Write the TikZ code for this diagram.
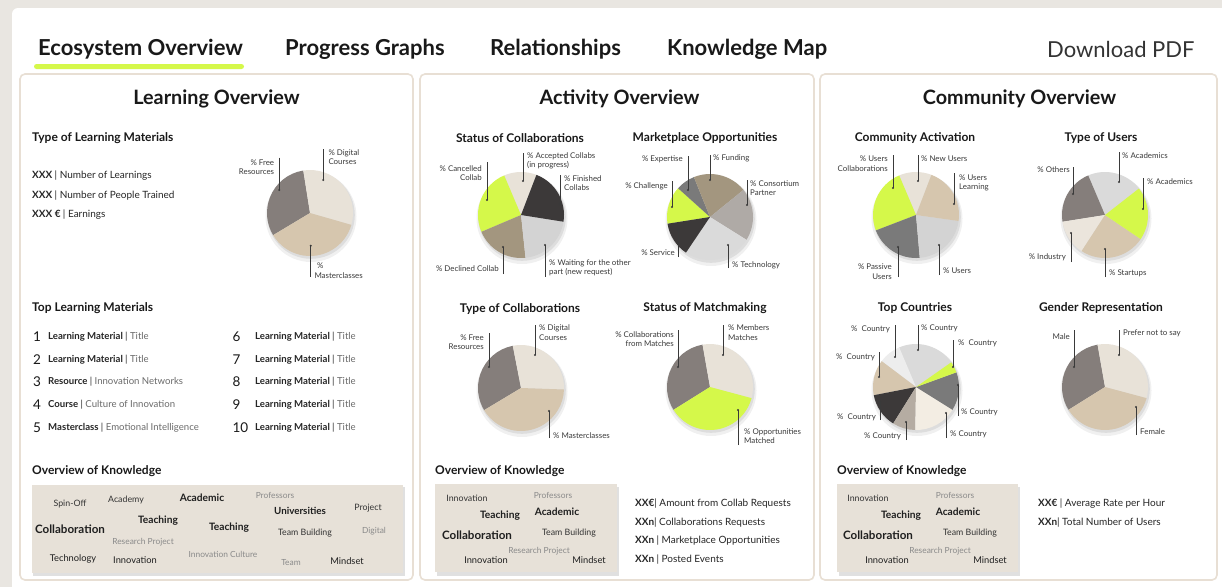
\documentclass[tikz,border=0pt]{standalone}
\usepackage{fontspec}
\setmainfont{Lato}
\definecolor{bgout}{HTML}{E9E6E1}
\definecolor{pborder}{HTML}{E8DFD4}
\definecolor{gr}{HTML}{D5F84A}
\definecolor{lbeige}{HTML}{E8E2D8}
\definecolor{tan}{HTML}{D6C6AE}
\definecolor{wgray}{HTML}{857E7B}
\definecolor{dark}{HTML}{3C3939}
\definecolor{brown}{HTML}{A3967F}
\definecolor{lgray}{HTML}{D3D3D3}
\definecolor{mgray}{HTML}{7A7A7A}
\definecolor{cgray}{HTML}{AFAAA6}
\definecolor{tgray}{HTML}{DADADA}
\definecolor{vlight}{HTML}{EDEDED}
\definecolor{taupe}{HTML}{B5ACA2}
\definecolor{cream}{HTML}{F3EDE3}
\definecolor{indus}{HTML}{EBE5DC}
\definecolor{cloud}{HTML}{E7E1D8}
\definecolor{lab}{HTML}{3A3A3A}
\definecolor{ttl}{HTML}{6A6A6A}
\definecolor{wlight}{HTML}{8A8A8A}
\newcommand\slice[6]{\fill[#6] (#1,#2) -- ++({-(#4)}:#3) arc[start angle={-(#4)}, end angle={-(#5)}, radius=#3] -- cycle;}
\newcommand\pieshadow[2]{\fill[black,opacity=0.06] (#1+1,#2+3.5) circle (45.5);\fill[black,opacity=0.08] (#1+1,#2+2) circle (43.8);}
\newcommand\lead[4]{\coordinate (#1-a) at (#2,#3); \coordinate (#1-b) at (#2,#4);
  \draw[leadline] (#1-a) -- (#1-b); \fill[lab] (#1-b) circle (1.1);}
\begin{document}
\begin{tikzpicture}[x=1pt,y=-1pt,
  tab/.style={font=\fontsize{22}{25}\selectfont\bfseries, text=black!90, inner sep=0, anchor=west, yshift=-2pt},
  ptitle/.style={font=\fontsize{19.8}{23}\selectfont\bfseries, text=black!90, inner sep=0, yshift=-1.5pt},
  shead/.style={font=\fontsize{12}{14}\selectfont\bfseries, text=black!90, inner sep=0, yshift=-1.5pt},
  body/.style={font=\fontsize{10}{12}\selectfont, text=black!85, inner sep=0, anchor=west, yshift=-1.5pt},
  num/.style={font=\fontsize{13.5}{15}\selectfont, text=black!90, inner sep=0, anchor=west, yshift=-1pt},
  item/.style={font=\fontsize{9.6}{11}\selectfont, text=black!85, inner sep=0, anchor=west, yshift=-1pt},
  pl/.style={font=\fontsize{7.9}{9.4}\selectfont, text=lab, inner sep=0},
  leadline/.style={draw=lab, line width=0.6pt},
  panel/.style={draw=pborder, line width=1.6pt, fill=white, rounded corners=5pt},
  wc/.style={font=\fontsize{8.8}{10}\selectfont, text=black!80, inner sep=0},
  wcm/.style={font=\fontsize{9.3}{10}\selectfont, text=black!88, inner sep=0},
  wcb/.style={font=\fontsize{10.2}{11}\selectfont\bfseries, text=black!88, inner sep=0},
  wcbig/.style={font=\fontsize{11.6}{13}\selectfont\bfseries, text=black!88, inner sep=0},
  wcl/.style={font=\fontsize{8.4}{10}\selectfont, text=wlight, inner sep=0}]
\useasboundingbox (0,0) rectangle (1222,587);
\fill[bgout] (0,0) rectangle (1222,587);
\fill[white] (12,8) [rounded corners=6pt] rectangle (1240,600);

% tabs
\node[tab] (t1) at (38,47) {Ecosystem Overview};
\node[tab] (t2) at (285,47) {Progress Graphs};
\node[tab] (t3) at (490,47) {Relationships};
\node[tab] (t4) at (667,47) {Knowledge Map};
\node[tab, font=\fontsize{22}{25}\selectfont, text=black!80] (t5) at (1047,47) {Download PDF};
\fill[gr, rounded corners=2.5pt] (34,64) rectangle (244,69);

% panels
\draw[panel] (20,74) rectangle (413,580);
\draw[panel] (420,74) rectangle (814,580);
\draw[panel] (820,74) rectangle (1217,580);
\node[ptitle] (p1) at (216.5,97) {Learning Overview};
\node[ptitle] (p2) at (619.5,97) {Activity Overview};
\node[ptitle] (p3) at (1019.5,97) {Community Overview};

%% ---------------- LEFT PANEL
\node[shead, anchor=west] (h1) at (32,137) {Type of Learning Materials};
\node[body] (b1) at (32,174) {\bfseries XXX \mdseries| Number of Learnings};
\node[body] (b2) at (32,194) {\bfseries XXX \mdseries| Number of People Trained};
\node[body] (b3) at (32,213) {\bfseries XXX € \mdseries| Earnings};

\pieshadow{310}{213}
\slice{310}{213}{43}{99}{211}{wgray}
\slice{310}{213}{43}{-16}{99}{lbeige}
\slice{310}{213}{43}{211}{344}{tan}
\node[pl, anchor=east, align=right] (lf) at (274.3,167) {\% Free\\Resources};
\lead{lfl}{279.3}{157.7}{190}
\node[pl, anchor=west, align=left] (ld) at (328.3,157) {\% Digital\\Courses};
\lead{ldl}{323.3}{149.3}{180}
\node[pl, anchor=west, align=left] (lm) at (314.3,270.5) {\,\,\%\\Masterclasses};
\lead{lml}{310.7}{276.7}{245.7}

\node[shead, anchor=west] (h2) at (32,307) {Top Learning Materials};
\node[num] (n1) at (33,336) {1};
\node[item] (i1) at (48,336) {\bfseries Learning Material \mdseries| \textcolor{ttl}{Title}};
\node[num] (n2) at (33,358.3) {2};
\node[item] (i2) at (48,358.3) {\bfseries Learning Material \mdseries| \textcolor{ttl}{Title}};
\node[num] (n3) at (33,381) {3};
\node[item] (i3) at (48,381) {\bfseries Resource \mdseries| \textcolor{ttl}{Innovation Networks}};
\node[num] (n4) at (33,404) {4};
\node[item] (i4) at (48,404) {\bfseries Course \mdseries| \textcolor{ttl}{Culture of Innovation}};
\node[num] (n5) at (33,426.7) {5};
\node[item] (i5) at (48,426.7) {\bfseries Masterclass \mdseries| \textcolor{ttl}{Emotional Intelligence}};
\node[num] (n6) at (232.3,336) {6};
\node[item] (i6) at (255,336) {\bfseries Learning Material \mdseries| \textcolor{ttl}{Title}};
\node[num] (n7) at (232.3,358.3) {7};
\node[item] (i7) at (255,358.3) {\bfseries Learning Material \mdseries| \textcolor{ttl}{Title}};
\node[num] (n8) at (232.3,381) {8};
\node[item] (i8) at (255,381) {\bfseries Learning Material \mdseries| \textcolor{ttl}{Title}};
\node[num] (n9) at (232.3,404) {9};
\node[item] (i9) at (255,404) {\bfseries Learning Material \mdseries| \textcolor{ttl}{Title}};
\node[num] (n10) at (232.3,426.7) {10};
\node[item] (i10) at (255,426.7) {\bfseries Learning Material \mdseries| \textcolor{ttl}{Title}};

\node[shead, anchor=west] (h3) at (32,470) {Overview of Knowledge};
\fill[black,opacity=0.12] (33,487) rectangle (405,576);
\fill[cloud] (31.5,484.5) rectangle (403,572.5);
\node[wc] (w1) at (70,504) {Spin-Off};
\node[wc] (w2) at (126,500) {Academy};
\node[wcb] (w3) at (202,498) {Academic};
\node[wcl] (w4) at (275,495) {Professors};
\node[wcb, font=\fontsize{9.8}{11}\selectfont\bfseries] (w5) at (300,511) {Universities};
\node[wc] (w6) at (368,508) {Project};
\node[wcbig] (w7) at (70,529) {Collaboration};
\node[wcb] (w8) at (158,521) {Teaching};
\node[wcb] (w9) at (229,528) {Teaching};
\node[wc] (w10) at (305,533) {Team Building};
\node[wcl] (w11) at (374,531) {Digital};
\node[wcl] (w12) at (143,542) {Research Project};
\node[wcm] (w13) at (73,559) {Technology};
\node[wcm] (w14) at (135,560) {Innovation};
\node[wcl] (w15) at (223,554) {Innovation Culture};
\node[wcl] (w16) at (291,563) {Team};
\node[wcm] (w17) at (347,561) {Mindset};

%% ---------------- MIDDLE PANEL
\node[shead] (h4) at (520,137) {Status of Collaborations};
\node[shead] (h5) at (705,137) {Marketplace Opportunities};
\pieshadow{521}{215}
\slice{521}{215}{43}{69}{113}{lbeige}
\slice{521}{215}{43}{113}{203}{gr}
\slice{521}{215}{43}{203}{276}{brown}
\slice{521}{215}{43}{276}{351}{lgray}
\slice{521}{215}{43}{351}{429}{dark}
\node[pl, anchor=east, align=right] (m1a) at (482,173) {\% Cancelled\\Collab};
\lead{m1al}{487}{162}{200}
\node[pl, anchor=west, align=left] (m1b) at (527,161) {\% Accepted Collabs\\(in progress)};
\lead{m1bl}{523}{153}{181}
\node[pl, anchor=west, align=left] (m1c) at (564,183) {\% Finished\\Collabs};
\lead{m1cl}{560}{175}{204}
\node[pl, anchor=east] (m1d) at (499,269) {\% Declined Collab};
\lead{m1dl}{503}{274}{247}
\node[pl, anchor=west, align=left] (m1e) at (549,268) {\% Waiting for the other\\part (new request)};
\lead{m1el}{545}{276.7}{245}

\pieshadow{710}{217}
\slice{710}{217}{43}{138}{189}{gr}
\slice{710}{217}{43}{112}{138}{mgray}
\slice{710}{217}{43}{39}{112}{brown}
\slice{710}{217}{43}{-32}{39}{cgray}
\slice{710}{217}{43}{236}{328}{tgray}
\slice{710}{217}{43}{189}{236}{dark}
\node[pl, anchor=east] (m2a) at (683,159) {\% Expertise};
\lead{m2al}{688}{156}{190}
\node[pl, anchor=west] (m2b) at (713,158) {\% Funding};
\lead{m2bl}{710}{155}{180}
\node[pl, anchor=west, align=left] (m2c) at (750,188) {\% Consortium\\Partner};
\lead{m2cl}{747}{180}{205}
\node[pl, anchor=east] (m2d) at (668,186) {\% Challenge};
\lead{m2dl}{672}{181}{207}
\node[pl, anchor=east] (m2e) at (675,253) {\% Service};
\lead{m2el}{678}{257}{230}
\node[pl, anchor=west] (m2f) at (732,265) {\% Technology};
\lead{m2fl}{728}{268}{245}

\node[shead] (h6) at (520,308) {Type of Collaborations};
\node[shead] (h7) at (705,307) {Status of Matchmaking};
\pieshadow{521}{388}
\slice{521}{388}{43}{101}{211}{wgray}
\slice{521}{388}{43}{-2}{101}{lbeige}
\slice{521}{388}{43}{211}{358}{tan}
\node[pl, anchor=east, align=right] (m3a) at (484,342) {\% Free\\Resources};
\lead{m3al}{489}{333}{367}
\node[pl, anchor=west, align=left] (m3b) at (539,332.5) {\% Digital\\Courses};
\lead{m3bl}{535}{325}{355}
\node[pl, anchor=west] (m3c) at (553,436) {\% Masterclasses};
\lead{m3cl}{549}{438}{411}

\pieshadow{710}{387}
\slice{710}{387}{43}{100}{212}{wgray}
\slice{710}{387}{43}{-15}{100}{lbeige}
\slice{710}{387}{43}{212}{345}{gr}
\node[pl, anchor=east, align=right] (m4a) at (674,339) {\% Collaborations\\from Matches};
\lead{m4al}{678}{330}{367}
\node[pl, anchor=west, align=left] (m4b) at (728,332.5) {\% Members\\Matches};
\lead{m4bl}{723}{325}{355}
\node[pl, anchor=west, align=left] (m4c) at (744,436) {\% Opportunities\\Matched};
\lead{m4cl}{738}{445}{410}

\node[shead, anchor=west] (h8) at (435,470) {Overview of Knowledge};
\fill[black,opacity=0.12] (437,487) rectangle (619,575.5);
\fill[cloud] (435,484) rectangle (617,572);
\node[wc] (x1) at (467,498) {Innovation};
\node[wcl] (x2) at (553,495) {Professors};
\node[wcb] (x3) at (500,516) {Teaching};
\node[wcb] (x4) at (557,512) {Academic};
\node[wcbig] (x5) at (477,535) {Collaboration};
\node[wc] (x6) at (569,533) {Team Building};
\node[wcl] (x7) at (539,551) {Research Project};
\node[wcm] (x8) at (486,560) {Innovation};
\node[wcm] (x9) at (589,560) {Mindset};
\node[body] (y1) at (635,502) {\bfseries XX€\mdseries| Amount from Collab Requests};
\node[body] (y2) at (635,521) {\bfseries XXn\mdseries| Collaborations Requests};
\node[body] (y3) at (635,539) {\bfseries XXn \mdseries| Marketplace Opportunities};
\node[body] (y4) at (635,558) {\bfseries XXn \mdseries| Posted Events};

%% ---------------- RIGHT PANEL
\node[shead] (h9) at (915,137) {Community Activation};
\node[shead] (h10) at (1101,137) {Type of Users};
\pieshadow{916}{215}
\slice{916}{215}{43}{69}{113}{lbeige}
\slice{916}{215}{43}{113}{201}{gr}
\slice{916}{215}{43}{201}{275}{mgray}
\slice{916}{215}{43}{275}{352}{lgray}
\slice{916}{215}{43}{352}{429}{tan}
\node[pl, anchor=east, align=right] (r1a) at (888,163.5) {\% Users\\Collaborations};
\lead{r1al}{893}{155}{188}
\node[pl, anchor=west] (r1b) at (921,159) {\% New Users};
\lead{r1bl}{918}{155}{181}
\node[pl, anchor=west, align=left] (r1c) at (959,183) {\% Users\\Learning};
\lead{r1cl}{954}{173}{204}
\node[pl, anchor=east, align=right] (r1d) at (892,271.5) {\% Passive\\Users};
\lead{r1dl}{898}{277}{247}
\node[pl, anchor=west] (r1e) at (943,271) {\% Users};
\lead{r1el}{939}{275}{245}

\pieshadow{1105}{215}
\slice{1105}{215}{43}{38}{113}{tgray}
\slice{1105}{215}{43}{113}{189}{wgray}
\slice{1105}{215}{43}{189}{237}{indus}
\slice{1105}{215}{43}{237}{326}{tan}
\slice{1105}{215}{43}{326}{398}{gr}
\node[pl, anchor=west] (r2a) at (1122,156) {\% Academics};
\lead{r2al}{1119}{152}{182}
\node[pl, anchor=west] (r2b) at (1147,182) {\% Academics};
\lead{r2bl}{1143}{178}{209}
\node[pl, anchor=east] (r2c) at (1070,170) {\% Others};
\lead{r2cl}{1073}{167}{194}
\node[pl, anchor=east] (r2d) at (1066,257) {\% Industry};
\lead{r2dl}{1071}{262}{233}
\node[pl, anchor=west] (r2e) at (1109,273) {\% Startups};
\lead{r2el}{1105}{277}{249}

\node[shead] (h11) at (915,307) {Top Countries};
\node[shead] (h12) at (1101,307) {Gender Representation};
\pieshadow{916}{387}
\slice{916}{387}{43}{35}{113}{tgray}
\slice{916}{387}{43}{113}{143}{vlight}
\slice{916}{387}{43}{143}{191}{tan}
\slice{916}{387}{43}{191}{238}{dark}
\slice{916}{387}{43}{238}{269}{taupe}
\slice{916}{387}{43}{269}{328}{cream}
\slice{916}{387}{43}{-32}{20}{mgray}
\slice{916}{387}{43}{20}{35}{gr}
\node[pl, anchor=east] (r3a) at (890,329) {\%\ \ Country};
\lead{r3al}{895}{325}{357}
\node[pl, anchor=west] (r3b) at (921,328) {\% Country};
\lead{r3bl}{918}{325}{350}
\node[pl, anchor=west] (r3c) at (958,343) {\%\ \ Country};
\lead{r3cl}{953}{340}{367}
\node[pl, anchor=east] (r3d) at (875,357) {\%\ \ Country};
\lead{r3dl}{879}{352}{377}
\node[pl, anchor=west] (r3e) at (961,412) {\% Country};
\lead{r3el}{958}{416}{385}
\node[pl, anchor=east] (r3f) at (876,417) {\%\ \ Country};
\lead{r3fl}{880}{420}{402}
\node[pl, anchor=east] (r3g) at (901,436) {\% Country};
\lead{r3gl}{906}{440}{422}
\node[pl, anchor=west] (r3h) at (950,434) {\% Country};
\lead{r3hl}{946}{438}{413}

\pieshadow{1105}{387}
\slice{1105}{387}{43}{100}{212}{wgray}
\slice{1105}{387}{43}{-15}{100}{lbeige}
\slice{1105}{387}{43}{212}{345}{tan}
\node[pl, anchor=east] (r4a) at (1070,337) {Male};
\lead{r4al}{1074}{330}{367}
\node[pl, anchor=west] (r4b) at (1123,333) {Prefer not to say};
\lead{r4bl}{1119}{330}{355}
\node[pl, anchor=west] (r4c) at (1140,432) {Female};
\lead{r4cl}{1136}{435}{407}

\node[shead, anchor=west] (h13) at (837,470) {Overview of Knowledge};
\fill[black,opacity=0.12] (839,487) rectangle (1020,575.5);
\fill[cloud] (837,484) rectangle (1018,572);
\node[wc] (z1) at (868,498) {Innovation};
\node[wcl] (z2) at (955,495) {Professors};
\node[wcb] (z3) at (901,516) {Teaching};
\node[wcb] (z4) at (958,512) {Academic};
\node[wcbig] (z5) at (878,535) {Collaboration};
\node[wc] (z6) at (970,533) {Team Building};
\node[wcl] (z7) at (940,551) {Research Project};
\node[wcm] (z8) at (887,560) {Innovation};
\node[wcm] (z9) at (990,560) {Mindset};
\node[body] (v1) at (1038,502) {\bfseries XX€ \mdseries| Average Rate per Hour};
\node[body] (v2) at (1038,521) {\bfseries XXn\mdseries| Total Number of Users};
\end{tikzpicture}
\end{document}
